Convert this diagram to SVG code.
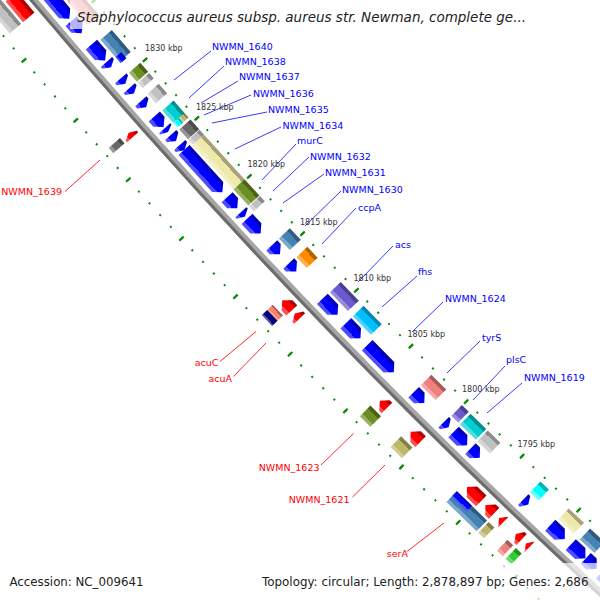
<svg xmlns="http://www.w3.org/2000/svg" width="600" height="600" viewBox="0 0 600 600">
<defs>
<style>
text{font-family:"DejaVu Sans","Liberation Sans",sans-serif}
.bt{fill:#0000ff;font-size:9.5px}
.rt{fill:#ff0000;font-size:9.5px;text-anchor:end}
.kb{fill:#333;font-size:8px}
.ft{fill:#222;font-size:12px}
.bln line{stroke:#3a3aff;stroke-width:1}
.rln line{stroke:#ff2a2a;stroke-width:1}
.ring{fill:none;stroke:#0a8a0a}
</style>
<linearGradient id="gB" x2="1"><stop offset="0" stop-color="#0000b8"/><stop offset=".25" stop-color="#0000b8"/><stop offset=".25" stop-color="#0000ff"/><stop offset=".75" stop-color="#0000ff"/><stop offset=".75" stop-color="#4d4dff"/><stop offset="1" stop-color="#4d4dff"/></linearGradient>
<linearGradient id="gSB" x2="1"><stop offset="0" stop-color="#315b7e"/><stop offset=".25" stop-color="#315b7e"/><stop offset=".25" stop-color="#4682b4"/><stop offset=".75" stop-color="#4682b4"/><stop offset=".75" stop-color="#7ea8cb"/><stop offset="1" stop-color="#7ea8cb"/></linearGradient>
<linearGradient id="gOL" x2="1"><stop offset="0" stop-color="#4b6319"/><stop offset=".25" stop-color="#4b6319"/><stop offset=".25" stop-color="#6b8e23"/><stop offset=".75" stop-color="#6b8e23"/><stop offset=".75" stop-color="#97b065"/><stop offset="1" stop-color="#97b065"/></linearGradient>
<linearGradient id="gSI" x2="1"><stop offset="0" stop-color="#8a8a8a"/><stop offset=".25" stop-color="#8a8a8a"/><stop offset=".25" stop-color="#c0c0c0"/><stop offset=".75" stop-color="#c0c0c0"/><stop offset=".75" stop-color="#d6d6d6"/><stop offset="1" stop-color="#d6d6d6"/></linearGradient>
<linearGradient id="gDG" x2="1"><stop offset="0" stop-color="#4a4a4a"/><stop offset=".25" stop-color="#4a4a4a"/><stop offset=".25" stop-color="#696969"/><stop offset=".75" stop-color="#696969"/><stop offset=".75" stop-color="#969696"/><stop offset="1" stop-color="#969696"/></linearGradient>
<linearGradient id="gDT" x2="1"><stop offset="0" stop-color="#009092"/><stop offset=".25" stop-color="#009092"/><stop offset=".25" stop-color="#00ced1"/><stop offset=".75" stop-color="#00ced1"/><stop offset=".75" stop-color="#4ddddf"/><stop offset="1" stop-color="#4ddddf"/></linearGradient>
<linearGradient id="gAQ" x2="1"><stop offset="0" stop-color="#00b3b3"/><stop offset=".25" stop-color="#00b3b3"/><stop offset=".25" stop-color="#00ffff"/><stop offset=".75" stop-color="#00ffff"/><stop offset=".75" stop-color="#66ffff"/><stop offset="1" stop-color="#66ffff"/></linearGradient>
<linearGradient id="gPG" x2="1"><stop offset="0" stop-color="#a7a277"/><stop offset=".25" stop-color="#a7a277"/><stop offset=".25" stop-color="#eee8aa"/><stop offset=".75" stop-color="#eee8aa"/><stop offset=".75" stop-color="#f3efc4"/><stop offset="1" stop-color="#f3efc4"/></linearGradient>
<linearGradient id="gDK" x2="1"><stop offset="0" stop-color="#84804b"/><stop offset=".25" stop-color="#84804b"/><stop offset=".25" stop-color="#bdb76b"/><stop offset=".75" stop-color="#bdb76b"/><stop offset=".75" stop-color="#d1cd97"/><stop offset="1" stop-color="#d1cd97"/></linearGradient>
<linearGradient id="gOR" x2="1"><stop offset="0" stop-color="#b36200"/><stop offset=".25" stop-color="#b36200"/><stop offset=".25" stop-color="#ff8c00"/><stop offset=".75" stop-color="#ff8c00"/><stop offset=".75" stop-color="#ffaf4d"/><stop offset="1" stop-color="#ffaf4d"/></linearGradient>
<linearGradient id="gSL" x2="1"><stop offset="0" stop-color="#4a3f90"/><stop offset=".25" stop-color="#4a3f90"/><stop offset=".25" stop-color="#6a5acd"/><stop offset=".75" stop-color="#6a5acd"/><stop offset=".75" stop-color="#978bdc"/><stop offset="1" stop-color="#978bdc"/></linearGradient>
<linearGradient id="gDS" x2="1"><stop offset="0" stop-color="#0086b3"/><stop offset=".25" stop-color="#0086b3"/><stop offset=".25" stop-color="#00bfff"/><stop offset=".75" stop-color="#00bfff"/><stop offset=".75" stop-color="#4dd2ff"/><stop offset="1" stop-color="#4dd2ff"/></linearGradient>
<linearGradient id="gLC" x2="1"><stop offset="0" stop-color="#a85a5a"/><stop offset=".25" stop-color="#a85a5a"/><stop offset=".25" stop-color="#f08080"/><stop offset=".75" stop-color="#f08080"/><stop offset=".75" stop-color="#f5a6a6"/><stop offset="1" stop-color="#f5a6a6"/></linearGradient>
<linearGradient id="gR" x2="1"><stop offset="0" stop-color="#b30000"/><stop offset=".25" stop-color="#b30000"/><stop offset=".25" stop-color="#ff0000"/><stop offset=".75" stop-color="#ff0000"/><stop offset=".75" stop-color="#ff4d4d"/><stop offset="1" stop-color="#ff4d4d"/></linearGradient>
<linearGradient id="gSA" x2="1"><stop offset="0" stop-color="#af5a50"/><stop offset=".25" stop-color="#af5a50"/><stop offset=".25" stop-color="#fa8072"/><stop offset=".75" stop-color="#fa8072"/><stop offset=".75" stop-color="#fca69c"/><stop offset="1" stop-color="#fca69c"/></linearGradient>
<linearGradient id="gNV" x2="1"><stop offset="0" stop-color="#00005a"/><stop offset=".25" stop-color="#00005a"/><stop offset=".25" stop-color="#000080"/><stop offset=".75" stop-color="#000080"/><stop offset=".75" stop-color="#4d4da6"/><stop offset="1" stop-color="#4d4da6"/></linearGradient>
<linearGradient id="gLG" x2="1"><stop offset="0" stop-color="#239023"/><stop offset=".25" stop-color="#239023"/><stop offset=".25" stop-color="#32cd32"/><stop offset=".75" stop-color="#32cd32"/><stop offset=".75" stop-color="#70dc70"/><stop offset="1" stop-color="#70dc70"/></linearGradient>
<linearGradient id="gLT" x2="1"><stop offset="0" stop-color="#949494"/><stop offset=".25" stop-color="#949494"/><stop offset=".25" stop-color="#d3d3d3"/><stop offset=".75" stop-color="#d3d3d3"/><stop offset=".75" stop-color="#e0e0e0"/><stop offset="1" stop-color="#e0e0e0"/></linearGradient>
</defs>
<rect width="600" height="600" fill="#fff"/>
<g id="rings">
<path class="ring" d="M43.63,-59.10 A6452,6452 0 0 0 693.67,615.99" stroke-width="2" stroke-dasharray="2 13.634" stroke-dashoffset="1"/>
<path class="ring" d="M43.63,-59.10 A6452,6452 0 0 0 693.67,615.99" stroke-width="6" stroke-dasharray="2.2 75.97" stroke-dashoffset="1.1"/>
<path class="ring" d="M-27.10,-0.27 A6544,6544 0 0 0 632.21,684.45" stroke-width="2" stroke-dasharray="2 13.857" stroke-dashoffset="1"/>
<path class="ring" d="M-27.10,-0.27 A6544,6544 0 0 0 632.21,684.45" stroke-width="6" stroke-dasharray="2.2 77.085" stroke-dashoffset="1.1"/>
</g>
<g id="backbone" fill="none">
<circle cx="5004" cy="-4185" r="6497.5" stroke="#a6a6a6" stroke-width="7"/>
<circle cx="5004" cy="-4185" r="6499.5" stroke="#6c6c6c" stroke-width="3"/>
</g>
<g id="features" transform="translate(5004 -4185)">
<g id="u1" fill="url(#gB)">
<path id="u01" transform="rotate(139.847) translate(6482.5) scale(1.07 1)" d="M-7 31H7V-24L0-31L-7-24Z"/>
<path id="u02" transform="rotate(139.476) translate(6482.5) scale(1.07 1)" d="M-7 8H7V-1L0-8L-7-1Z"/>
<path id="u03" transform="rotate(139.180) translate(6482.5) scale(1.07 1)" d="M-7 10.5H7V-3.5L0-10.5L-7-3.5Z"/>
<path id="u04" transform="rotate(139.038) translate(6482.5) scale(1.07 1)" d="M-7 3.5H7V1L0-3.5L-7 1Z"/>
<path id="u05" transform="rotate(138.846) translate(6482.5) scale(1.07 1)" d="M-7 3.5H7V1L0-3.5L-7 1Z"/>
<path id="u06" transform="rotate(138.731) translate(6482.5) scale(1.07 1)" d="M-7 3.5H7V1L0-3.5L-7 1Z"/>
<path id="u07" transform="rotate(138.572) translate(6482.5) scale(1.07 1)" d="M-7 4H7V1L0-4L-7 1Z"/>
<path id="u08" transform="rotate(138.366) translate(6482.5) scale(1.07 1)" d="M-7 7H7V0L0-7L-7 0Z"/>
<path id="u09" transform="rotate(138.267) translate(6482.5) scale(1.07 1)" d="M-7 2.5H7V0.8L0-2.5L-7 0.8Z"/>
<path id="u10" transform="rotate(138.174) translate(6482.5) scale(1.07 1)" d="M-7 4H7V1L0-4L-7 1Z"/>
<path id="u11" transform="rotate(138.059) translate(6482.5) scale(1.07 1)" d="M-7 3.5H7V1L0-3.5L-7 1Z"/>
<path id="u12" transform="rotate(137.780) translate(6482.5) scale(1.07 1)" d="M-7 28.5H7V-21.5L0-28.5L-7-21.5Z"/>
<path id="u13" transform="rotate(137.401) translate(6482.5) scale(1.07 1)" d="M-7 7.5H7V-0.5L0-7.5L-7-0.5Z"/>
<path id="u14" transform="rotate(137.261) translate(6482.5) scale(1.07 1)" d="M-7 3H7V1L0-3L-7 1Z"/>
<path id="u15" transform="rotate(137.119) translate(6482.5) scale(1.07 1)" d="M-7 10H7V-3L0-10L-7-3Z"/>
<path id="u16" transform="rotate(136.833) translate(6482.5) scale(1.07 1)" d="M-7 6H7V1L0-6L-7 1Z"/>
<path id="u17" transform="rotate(136.619) translate(6482.5) scale(1.07 1)" d="M-7 5.5H7V1.5L0-5.5L-7 1.5Z"/>
<path id="u18" transform="rotate(136.139) translate(6482.5) scale(1.07 1)" d="M-7 11H7V-4L0-11L-7-4Z"/>
<path id="u19" transform="rotate(135.844) translate(6482.5) scale(1.07 1)" d="M-7 10.5H7V-3.5L0-10.5L-7-3.5Z"/>
<path id="u20" transform="rotate(135.498) translate(6482.5) scale(1.07 1)" d="M-7 19H7V-12L0-19L-7-12Z"/>
<path id="u21" transform="rotate(135.015) translate(6482.5) scale(1.07 1)" d="M-7 7.5H7V-0.5L0-7.5L-7-0.5Z"/>
<path id="u22" transform="rotate(134.676) translate(6482.5) scale(1.07 1)" d="M-7 3.5H7V1L0-3.5L-7 1Z"/>
<path id="u23" transform="rotate(134.500) translate(6482.5) scale(1.07 1)" d="M-7 9.5H7V-2.5L0-9.5L-7-2.5Z"/>
<path id="u24" transform="rotate(134.317) translate(6482.5) scale(1.07 1)" d="M-7 6.5H7V0.5L0-6.5L-7 0.5Z"/>
<path id="u25" transform="rotate(133.695) translate(6482.5) scale(1.07 1)" d="M-7 3.5H7V1L0-3.5L-7 1Z"/>
<path id="u26" transform="rotate(133.308) translate(6482.5) scale(1.07 1)" d="M-7 10H7V-3L0-10L-7-3Z"/>
<path id="u27" transform="rotate(133.059) translate(6482.5) scale(1.07 1)" d="M-7 10H7V-3L0-10L-7-3Z"/>
<path id="u28" transform="rotate(132.900) translate(6482.5) scale(1.07 1)" d="M-7 7.5H7V-0.5L0-7.5L-7-0.5Z"/>
<path id="u29" transform="rotate(132.714) translate(6482.5) scale(1.07 1)" d="M-7 7.5H7V-0.5L0-7.5L-7-0.5Z"/>
</g>
<g id="u2">
<rect id="v01" transform="rotate(139.785) translate(6465) scale(1.07 1)" x="-7" y="-9" width="14" height="18" fill="url(#gLT)"/>
<rect id="v02" transform="rotate(139.563) translate(6465) scale(1.07 1)" x="-7" y="-16" width="14" height="32" fill="url(#gLC)"/>
<rect id="v03" transform="rotate(139.124) translate(6465) scale(1.07 1)" x="-7" y="-14.5" width="14" height="29" fill="url(#gSB)"/>
<rect id="v04" transform="rotate(139.014) translate(6465) scale(1.07 1)" x="0" y="-4" width="7" height="8" fill="url(#gB)"/>
<rect id="v05" transform="rotate(138.814) translate(6465) scale(1.07 1)" x="-7" y="-6" width="14" height="12" fill="url(#gOL)"/>
<rect id="v06" transform="rotate(138.716) translate(6465) scale(1.07 1)" x="-7" y="-3.5" width="14" height="7" fill="url(#gSI)"/>
<rect id="v07" transform="rotate(138.563) translate(6465) scale(1.07 1)" x="-7" y="-6.3" width="14" height="12.6" fill="url(#gSI)"/>
<rect id="v08" transform="rotate(138.346) translate(6465) scale(1.07 1)" x="-7" y="-8.4" width="14" height="16.8" fill="url(#gDT)"/>
<rect id="v09" transform="rotate(138.247) translate(6465) scale(1.07 1)" x="-7" y="-3" width="7" height="6" fill="url(#gDK)"/>
<rect id="v10" transform="rotate(138.247) translate(6465) scale(1.07 1)" x="0" y="-3" width="7" height="6" fill="url(#gAQ)"/>
<rect id="v11" transform="rotate(138.137) translate(6465) scale(1.07 1)" x="-7" y="-6.5" width="14" height="13" fill="url(#gDG)"/>
<rect id="v12" transform="rotate(138.044) translate(6465) scale(1.07 1)" x="-7" y="-3.3" width="14" height="6.6" fill="url(#gSI)"/>
<rect id="v13" transform="rotate(137.747) translate(6465) scale(1.07 1)" x="-7" y="-30" width="14" height="60" fill="url(#gPG)"/>
<rect id="v14" transform="rotate(137.383) translate(6465) scale(1.07 1)" x="-7" y="-11" width="14" height="22" fill="url(#gOL)"/>
<rect id="v15" transform="rotate(137.246) translate(6465) scale(1.07 1)" x="-7" y="-3.5" width="14" height="7" fill="url(#gSI)"/>
<rect id="v16" transform="rotate(136.818) translate(6465) scale(1.07 1)" x="-7" y="-8" width="14" height="16" fill="url(#gSB)"/>
<rect id="v17" transform="rotate(136.595) translate(6465) scale(1.07 1)" x="-7" y="-7.5" width="14" height="15" fill="url(#gOR)"/>
<rect id="v18" transform="rotate(136.116) translate(6465) scale(1.07 1)" x="-7" y="-13" width="14" height="26" fill="url(#gSL)"/>
<rect id="v19" transform="rotate(135.824) translate(6465) scale(1.07 1)" x="-7" y="-13" width="14" height="26" fill="url(#gDS)"/>
<rect id="v20" transform="rotate(134.988) translate(6465) scale(1.07 1)" x="-7" y="-10.5" width="14" height="21" fill="url(#gLC)"/>
<rect id="v21" transform="rotate(134.656) translate(6465) scale(1.07 1)" x="-7" y="-4.8" width="14" height="9.6" fill="url(#gSL)"/>
<rect id="v22" transform="rotate(134.493) translate(6465) scale(1.07 1)" x="-7" y="-11" width="14" height="22" fill="url(#gDT)"/>
<rect id="v23" transform="rotate(134.299) translate(6465) scale(1.07 1)" x="-7" y="-8.8" width="14" height="17.6" fill="url(#gSI)"/>
<rect id="v24" transform="rotate(133.675) translate(6465) scale(1.07 1)" x="-7" y="-5.9" width="14" height="11.8" fill="url(#gAQ)"/>
<rect id="v25" transform="rotate(133.287) translate(6465) scale(1.07 1)" x="-7" y="-10.5" width="14" height="21" fill="url(#gPG)"/>
<rect id="v26" transform="rotate(133.032) translate(6465) scale(1.07 1)" x="-7" y="-10" width="14" height="20" fill="url(#gSB)"/>
</g>
<g id="l1" fill="url(#gR)">
<path id="r01" transform="rotate(139.959) translate(6512.5) scale(1.07 1)" d="M-7-16.5H7V9.5L0 16.5L-7 9.5Z"/>
<path id="r02" transform="rotate(138.444) translate(6512.5) scale(1.07 1)" d="M-7-3H7V-1L0 3L-7-1Z"/>
<path id="r03" transform="rotate(136.410) translate(6512.5) scale(1.07 1)" d="M-7-7H7V0L0 7L-7 0Z"/>
<path id="r04" transform="rotate(136.280) translate(6512.5) scale(1.07 1)" d="M-7-3.5H7V-1L0 3.5L-7-1Z"/>
<path id="r05" transform="rotate(135.194) translate(6512.5) scale(1.07 1)" d="M-7-5H7V-1.5L0 5L-7-1.5Z"/>
<path id="r06" transform="rotate(134.793) translate(6512.5) scale(1.07 1)" d="M-7-7H7V0L0 7L-7 0Z"/>
<path id="r07" transform="rotate(134.072) translate(6512.5) scale(1.07 1)" d="M-7-10H7V3L0 10L-7 3Z"/>
<path id="r08" transform="rotate(133.881) translate(6512.5) scale(1.07 1)" d="M-7-6H7V-1L0 6L-7-1Z"/>
<path id="r09" transform="rotate(133.742) translate(6512.5) scale(1.07 1)" d="M-7-3H7L0 3Z"/>
<path id="r10" transform="rotate(133.529) translate(6512.5) scale(1.07 1)" d="M-7-4H7V-1L0 4L-7-1Z"/>
<path id="r11" transform="rotate(133.420) translate(6512.5) scale(1.07 1)" d="M-7-2.5H7L0 2.5Z"/>
</g>
<g id="l2">
<rect id="w01" transform="rotate(139.954) translate(6530) scale(1.07 1)" x="-7" y="-16" width="14" height="32" fill="url(#gSI)"/>
<rect id="w02" transform="rotate(138.456) translate(6530) scale(1.07 1)" x="-7" y="-3.5" width="14" height="7" fill="url(#gDG)"/>
<rect id="w03" transform="rotate(136.435) translate(6530) scale(1.07 1)" x="-7" y="-7.5" width="7" height="15" fill="url(#gSA)"/>
<rect id="w04" transform="rotate(136.435) translate(6530) scale(1.07 1)" x="0" y="-7.5" width="7" height="15" fill="url(#gNV)"/>
<rect id="w05" transform="rotate(135.201) translate(6530) scale(1.07 1)" x="-7" y="-7.5" width="14" height="15" fill="url(#gOL)"/>
<rect id="w06" transform="rotate(134.815) translate(6530) scale(1.07 1)" x="-7" y="-8" width="14" height="16" fill="url(#gDK)"/>
<rect id="w07" transform="rotate(134.014) translate(6530) scale(1.07 1)" x="-7" y="-21" width="14" height="42" fill="url(#gSB)"/>
<rect id="w08" transform="rotate(134.106) translate(6530) scale(1.07 1)" x="-7" y="-10.5" width="7" height="21" fill="url(#gB)"/>
<rect id="w09" transform="rotate(133.775) translate(6530) scale(1.07 1)" x="-7" y="-4" width="14" height="8" fill="url(#gDK)"/>
<rect id="w10" transform="rotate(133.547) translate(6530) scale(1.07 1)" x="-7" y="-4" width="14" height="8" fill="url(#gLC)"/>
<rect id="w11" transform="rotate(133.444) translate(6530) scale(1.07 1)" x="-7" y="-4" width="14" height="8" fill="url(#gLG)"/>
</g>
</g>
<g id="connectors">
<g class="bln">
<line x1="174" y1="80" x2="211" y2="51"/>
<line x1="189" y1="98" x2="224" y2="66"/>
<line x1="201" y1="103" x2="238" y2="81"/>
<line x1="204" y1="115" x2="251" y2="95"/>
<line x1="212" y1="123" x2="267" y2="112"/>
<line x1="235" y1="149" x2="281" y2="127"/>
<line x1="262" y1="180" x2="296" y2="144"/>
<line x1="273" y1="191" x2="309" y2="157"/>
<line x1="283" y1="203" x2="324" y2="174"/>
<line x1="305" y1="226" x2="341" y2="191"/>
<line x1="322" y1="244" x2="356" y2="208"/>
<line x1="358" y1="282" x2="393" y2="246"/>
<line x1="382" y1="307" x2="417" y2="276"/>
<line x1="412" y1="332" x2="443" y2="302"/>
<line x1="447" y1="373" x2="480" y2="341"/>
<line x1="473" y1="400" x2="505" y2="366"/>
<line x1="487" y1="413" x2="522" y2="383"/>
</g>
<g class="rln">
<line x1="65" y1="191.5" x2="100" y2="160"/>
<line x1="220" y1="361.5" x2="256" y2="331.5"/>
<line x1="233.5" y1="376.5" x2="266" y2="343"/>
<line x1="321" y1="465" x2="353.5" y2="433.5"/>
<line x1="352.5" y1="497" x2="385" y2="465"/>
<line x1="407" y1="551.5" x2="444" y2="523"/>
</g>
</g>
<rect id="titlebg" x="70" y="0" width="465" height="29" fill="#fff" fill-opacity=".7"/>
<rect id="footbg" x="256" y="563" width="344" height="37" fill="#fff" fill-opacity=".7"/>
<g id="labels">
<text class="bt" x="212" y="50">NWMN_1640</text>
<text class="bt" x="225" y="65">NWMN_1638</text>
<text class="bt" x="239" y="80">NWMN_1637</text>
<text class="bt" x="253" y="96.5">NWMN_1636</text>
<text class="bt" x="268" y="113">NWMN_1635</text>
<text class="bt" x="282.5" y="128.5">NWMN_1634</text>
<text class="bt" x="297" y="143.5">murC</text>
<text class="bt" x="310" y="159.5">NWMN_1632</text>
<text class="bt" x="325" y="176">NWMN_1631</text>
<text class="bt" x="342" y="193">NWMN_1630</text>
<text class="bt" x="358" y="211">ccpA</text>
<text class="bt" x="395" y="248">acs</text>
<text class="bt" x="418" y="275">fhs</text>
<text class="bt" x="445" y="302">NWMN_1624</text>
<text class="bt" x="482" y="341">tyrS</text>
<text class="bt" x="506" y="363">plsC</text>
<text class="bt" x="524" y="381">NWMN_1619</text>
<text class="rt" x="62" y="195">NWMN_1639</text>
<text class="rt" x="218.5" y="366">acuC</text>
<text class="rt" x="232" y="381.5">acuA</text>
<text class="rt" x="319.5" y="471">NWMN_1623</text>
<text class="rt" x="349.5" y="503">NWMN_1621</text>
<text class="rt" x="408" y="557">serA</text>
<text class="kb" x="145" y="50.5">1830 kbp</text>
<text class="kb" x="196" y="109.5">1825 kbp</text>
<text class="kb" x="247.5" y="167">1820 kbp</text>
<text class="kb" x="300" y="224.5">1815 kbp</text>
<text class="kb" x="353.5" y="280.5">1810 kbp</text>
<text class="kb" x="407.5" y="336.5">1805 kbp</text>
<text class="kb" x="462" y="391.5">1800 kbp</text>
<text class="kb" x="517.5" y="446.5">1795 kbp</text>
</g>
<text x="77" y="22" font-style="italic" font-size="13.5" fill="#222" textLength="449" lengthAdjust="spacingAndGlyphs">Staphylococcus aureus subsp. aureus str. Newman, complete ge...</text>
<text class="ft" x="9.5" y="586" textLength="134" lengthAdjust="spacingAndGlyphs">Accession: NC_009641</text>
<text class="ft" x="262" y="586" textLength="326.5" lengthAdjust="spacingAndGlyphs">Topology: circular; Length: 2,878,897 bp; Genes: 2,686</text>
</svg>
